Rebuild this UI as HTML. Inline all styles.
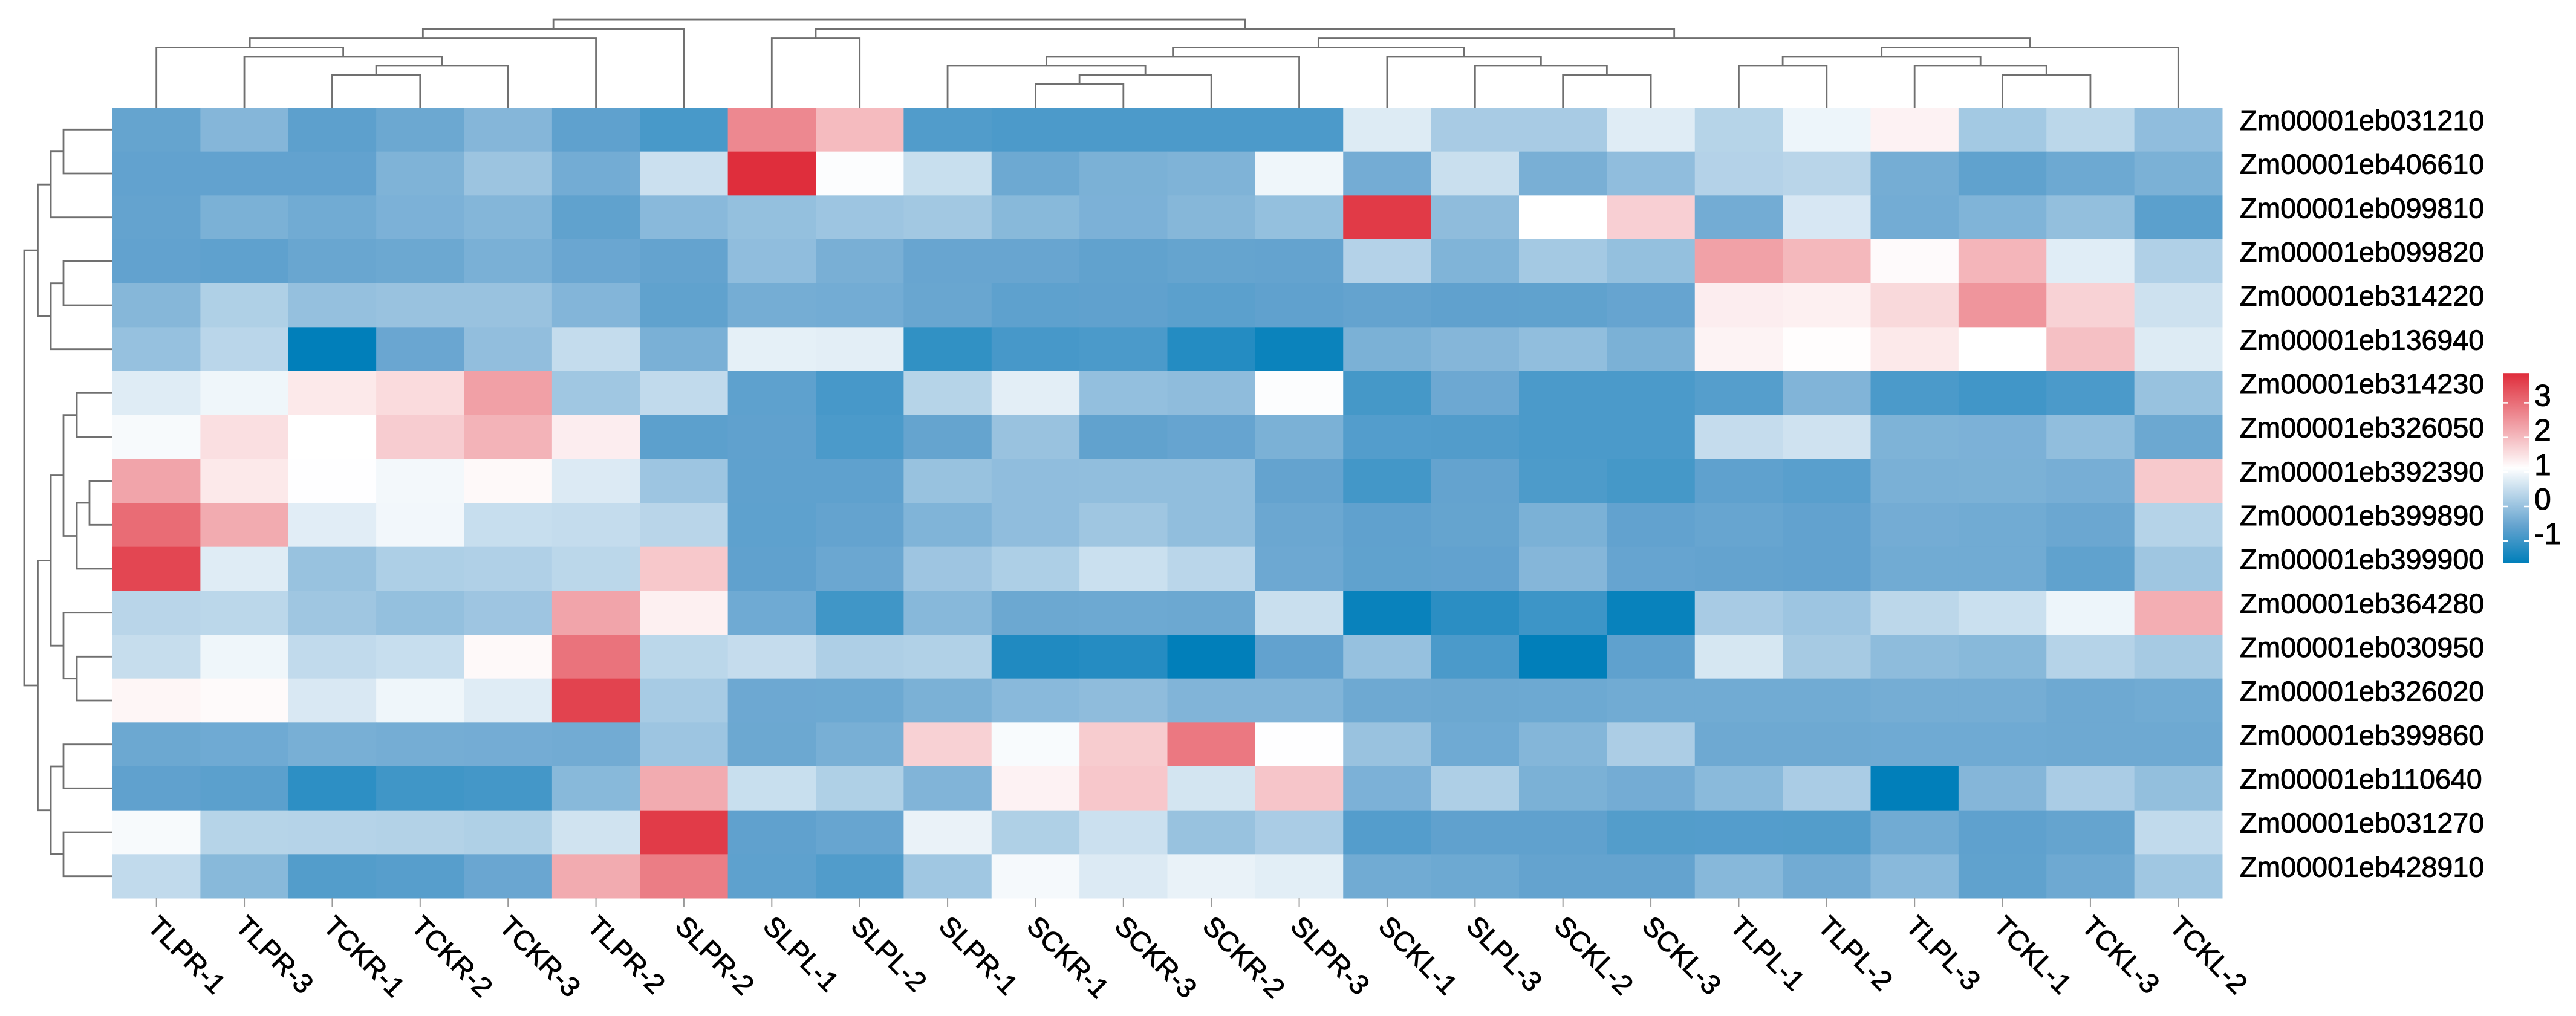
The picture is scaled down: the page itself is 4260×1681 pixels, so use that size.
<!DOCTYPE html>
<html lang="en">
<head>
<meta charset="utf-8">
<title>Gene expression heatmap</title>
<style>
html,body{margin:0;padding:0;background:#fff;}
svg{display:block;}
text{font-family:"Liberation Sans",Arial,sans-serif;fill:#000;stroke:#000;stroke-width:0.9px;}
</style>
</head>
<body>
<svg id="chart" xmlns="http://www.w3.org/2000/svg" width="4260" height="1681" viewBox="0 0 4260 1681">
<defs><linearGradient id="legendGradient" x1="0" y1="1" x2="0" y2="0"></linearGradient></defs>
<g id="colDendro"></g>
<g id="rowDendro"></g>
<g id="cells"></g>
<g id="ticks"></g>
<g id="colLabels"></g>
<g id="rowLabels"></g>
<g id="legend"></g>
</svg>
<script>
const columns = ["TLPR-1","TLPR-3","TCKR-1","TCKR-2","TCKR-3","TLPR-2","SLPR-2","SLPL-1","SLPL-2","SLPR-1","SCKR-1","SCKR-3","SCKR-2","SLPR-3","SCKL-1","SLPL-3","SCKL-2","SCKL-3","TLPL-1","TLPL-2","TLPL-3","TCKL-1","TCKL-3","TCKL-2"];
const genes = ["Zm00001eb031210","Zm00001eb406610","Zm00001eb099810","Zm00001eb099820","Zm00001eb314220","Zm00001eb136940","Zm00001eb314230","Zm00001eb326050","Zm00001eb392390","Zm00001eb399890","Zm00001eb399900","Zm00001eb364280","Zm00001eb030950","Zm00001eb326020","Zm00001eb399860","Zm00001eb110640","Zm00001eb031270","Zm00001eb428910"];
const values = [
[-.55,-.21,-.64,-.48,-.21,-.62,-.86,2.66,2.0,-.77,-.82,-.82,-.82,-.82,.74,.17,.17,.77,.32,.92,1.28,.12,.38,-.09],
[-.58,-.58,-.58,-.27,.04,-.40,.55,3.83,1.08,.52,-.46,-.31,-.27,.94,-.39,.53,-.34,-.09,.30,.35,-.38,-.60,-.46,-.31],
[-.56,-.31,-.42,-.30,-.22,-.60,-.16,-.04,.05,.11,-.17,-.30,-.20,-.04,3.68,-.10,1.115,1.73,-.40,.68,-.40,-.26,-.06,-.66],
[-.58,-.62,-.51,-.48,-.33,-.50,-.56,-.09,-.34,-.52,-.52,-.59,-.55,-.56,.30,-.26,.13,-.04,2.34,2.04,1.17,2.08,.78,.26],
[-.20,.25,-.03,.01,.01,-.23,-.60,-.38,-.40,-.51,-.63,-.61,-.66,-.61,-.56,-.61,-.60,-.54,1.34,1.31,1.61,2.49,1.70,.57],
[-.02,.37,-1.63,-.50,-.07,.47,-.33,.83,.81,-1.11,-.88,-.83,-1.25,-1.52,-.31,-.21,-.08,-.31,1.27,1.14,1.40,1.115,1.93,.74],
[.77,.94,1.40,1.58,2.35,.09,.44,-.63,-.88,.32,.81,-.05,-.10,1.08,-.90,-.47,-.83,-.83,-.72,-.25,-.83,-.94,-.83,0],
[1.02,1.53,1.115,1.77,2.10,1.34,-.65,-.61,-.83,-.55,.01,-.59,-.54,-.31,-.74,-.76,-.83,-.83,.48,.59,-.28,-.30,-.08,-.48],
[2.29,1.40,1.1,.98,1.19,.73,.05,-.62,-.62,0,-.09,-.08,-.08,-.56,-.92,-.56,-.81,-.90,-.62,-.68,-.32,-.31,-.36,1.82],
[3.03,2.21,.79,.97,.51,.47,.35,-.63,-.56,-.26,-.09,.07,-.08,-.49,-.61,-.55,-.31,-.58,-.53,-.58,-.39,-.42,-.49,.31],
[3.52,.77,0,.23,.26,.38,1.83,-.61,-.49,.06,.23,.54,.37,-.47,-.60,-.58,-.21,-.54,-.56,-.58,-.42,-.42,-.60,.07],
[.35,.38,.07,-.04,.06,2.29,1.30,-.44,-.95,-.18,-.48,-.46,-.48,.53,-1.54,-1.18,-.98,-1.55,.17,.05,.39,.54,.92,2.17],
[.50,.94,.44,.51,1.19,2.94,.38,.48,.24,.27,-1.30,-1.24,-1.63,-.58,-.02,-.83,-1.63,-.62,.67,.15,-.11,-.17,.31,.15],
[1.23,1.18,.70,.94,.77,3.56,.16,-.47,-.46,-.31,-.16,-.10,-.25,-.25,-.45,-.48,-.46,-.42,-.42,-.42,-.38,-.38,-.45,-.42],
[-.48,-.44,-.35,-.38,-.39,-.41,.05,-.48,-.35,1.71,1.03,1.78,2.87,1.1,.01,-.44,-.22,.21,-.45,-.45,-.44,-.44,-.45,-.45],
[-.61,-.66,-1.15,-.95,-.91,-.17,2.21,.52,.25,-.25,1.28,1.84,.63,1.87,-.30,.24,-.31,-.39,-.15,.19,-1.63,-.21,.19,-.06],
[1.02,.32,.31,.29,.25,.60,3.67,-.61,-.53,.88,.25,.55,0,.19,-.73,-.61,-.61,-.75,-.73,-.75,-.42,-.62,-.55,.44],
[.44,-.17,-.75,-.70,-.50,2.21,2.81,-.63,-.77,.09,1.0,.73,.87,.80,-.42,-.46,-.56,-.56,-.18,-.41,-.16,-.60,-.45,.09]
];
const legendTicks = [3,2,1,0,-1];
const colorDomain = [-1.64,3.86];
const colMerges = [
[-3,-4,3.55],[1,-5,4.54],[-2,2,5.53],[-1,3,6.55],[4,-6,7.53],[5,-7,8.55],
[-8,-9,7.53],[-11,-12,2.57],[8,-13,3.55],[-10,9,4.54],[10,-14,5.53],
[-17,-18,3.55],[-16,12,4.54],[-15,13,5.53],[11,14,6.55],
[-19,-20,4.54],[-22,-23,3.55],[-21,17,4.54],[16,18,5.53],[19,-24,6.55],
[15,20,7.53],[7,21,8.55],[6,22,9.6]
];
const rowMerges = [
[-1,-2,3.75],[1,-3,4.72],[-4,-5,3.75],[3,-6,4.72],[2,4,5.72],
[-7,-8,2.73],[-9,-10,1.76],[7,-11,2.73],[6,8,3.75],
[-13,-14,2.73],[-12,10,3.75],[9,11,4.72],
[-15,-16,3.75],[-17,-18,3.75],[13,14,4.72],[12,15,5.72],[5,16,6.76]
];

const NS = "http://www.w3.org/2000/svg";
const plotLeft = 186, plotRight = 3675, plotTop = 178, plotBottom = 1486;
const cellW = (plotRight - plotLeft) / columns.length;
const cellH = (plotBottom - plotTop) / genes.length;
const xScale = i => plotLeft + i * cellW;
const yScale = i => plotTop + i * cellH;
const colHeight = h => plotTop - h * 15.2;
const rowHeight = h => plotLeft - h * 21.6;
const legendY = v => 838 - v * 57.2;

const lowColor = [0,127,186], midBlue = [100,163,207], white = [255,255,255], highColor = [223,44,58];
function lerp(a,b,t){return a.map((c,i)=>Math.round(c+(b[i]-c)*t));}
function colorFor(v){
  const mid = (colorDomain[0]+colorDomain[1])/2;
  if(v>=mid){
    const t = Math.min(1,(v-mid)/(colorDomain[1]-mid));
    return "rgb("+lerp(white,highColor,t).join(",")+")";
  }
  const f = Math.max(0,(v-colorDomain[0])/(mid-colorDomain[0]));
  const c = f<0.392 ? lerp(lowColor,midBlue,f/0.392) : lerp(midBlue,white,(f-0.392)/0.608);
  return "rgb("+c.join(",")+")";
}
function make(tag,parent,attrs){
  const el = document.createElementNS(NS,tag);
  for(const k in attrs) el.setAttribute(k,attrs[k]);
  parent.appendChild(el);
  return el;
}

const cellsG = document.getElementById("cells");
values.forEach((row,r)=>{
  row.forEach((v,c)=>{
    const rect = make("rect",cellsG,{x:xScale(c),y:yScale(r),width:cellW+0.5,height:cellH+0.5,fill:colorFor(v)});
    
    
  });
});

const ticksG = document.getElementById("ticks");
const colLabelsG = document.getElementById("colLabels");
columns.forEach((name,c)=>{
  const cx = xScale(c+0.5);
  const tick = make("line",ticksG,{x1:cx,y1:plotBottom,x2:cx,y2:1501,stroke:"#9a9a9a","stroke-width":2});
  
  
  const ox = cx-17, oy = 1535;
  const label = make("text",colLabelsG,{x:ox,y:oy,"font-size":46,transform:"rotate(45 "+ox+" "+oy+")"});
  label.textContent = name;
  
  
});

const rowLabelsG = document.getElementById("rowLabels");
genes.forEach((name,r)=>{
  const label = make("text",rowLabelsG,{x:3704,y:yScale(r+0.5)-16+16.7,"font-size":46.6});
  label.textContent = name;
  
  
});

function drawTree(merges,group,leafPos,heightPos,vertical){
  const nodes = [];
  const locate = id => id<0 ? {p:leafPos(-id-1),h:0} : nodes[id-1];
  merges.forEach(m=>{
    const a = locate(m[0]), b = locate(m[1]), h = m[2];
    const pa = heightPos(a.h), pb = heightPos(b.h), ph = heightPos(h);
    const d = vertical
      ? "M"+a.p+" "+pa+"V"+ph+"H"+b.p+"V"+pb
      : "M"+pa+" "+a.p+"H"+ph+"V"+b.p+"H"+pb;
    const path = make("path",group,{d:d,fill:"none",stroke:"#707070","stroke-width":2.8});
    
    
    nodes.push({p:(a.p+b.p)/2,h:h});
  });
}
drawTree(colMerges,document.getElementById("colDendro"),i=>xScale(i+0.5),colHeight,true);
drawTree(rowMerges,document.getElementById("rowDendro"),i=>yScale(i+0.5),rowHeight,false);

const grad = document.getElementById("legendGradient");
[0,0.196,0.5,1].forEach(off=>{
  const v = colorDomain[0]+off*(colorDomain[1]-colorDomain[0]);
  make("stop",grad,{offset:off,"stop-color":colorFor(v)});
});
const legendG = document.getElementById("legend");
const barLeft = 4139, barRight = 4182;
const bar = make("rect",legendG,{x:barLeft,y:legendY(colorDomain[1]),width:barRight-barLeft,height:legendY(colorDomain[0])-legendY(colorDomain[1]),fill:"url(#legendGradient)"});


legendTicks.forEach(t=>{
  const y = legendY(t);
  const tl = make("line",legendG,{x1:barLeft,y1:y,x2:barLeft+8,y2:y,stroke:"#fff","stroke-width":2.5});
  
  
  const tr = make("line",legendG,{x1:barRight-8,y1:y,x2:barRight,y2:y,stroke:"#fff","stroke-width":2.5});
  
  
  const label = make("text",legendG,{x:4191,y:y+5,"font-size":50});
  label.textContent = String(t);
  
  
});
</script>
</body>
</html>
